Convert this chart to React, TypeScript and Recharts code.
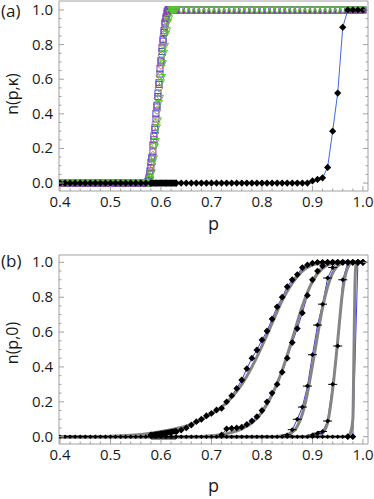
import React from "react";
import { ComposedChart, Line, Scatter, XAxis, YAxis } from "recharts";

const FONT = "'Open Sans', 'DejaVu Sans', sans-serif";
const FRAME = "#a0a0a0";
const TEXT = "#1a1a1a";

// p grids (0.01 coarse, 0.002 fine around the threshold)
const pCoarse = Array.from({ length: 61 }, (_, i) => Math.round((0.4 + i * 0.01) * 100) / 100);
const pFine = Array.from({ length: 31 }, (_, i) => Math.round((0.57 + i * 0.002) * 1000) / 1000);

const xTicks = [
  0.4, 0.42, 0.44, 0.46, 0.48, 0.5, 0.52, 0.54, 0.56, 0.58, 0.6, 0.62, 0.64, 0.66, 0.68, 0.7,
  0.72, 0.74, 0.76, 0.78, 0.8, 0.82, 0.84, 0.86, 0.88, 0.9, 0.92, 0.94, 0.96, 0.98, 1.0,
];
const yTicks = [
  0, 0.05, 0.1, 0.15, 0.2, 0.25, 0.3, 0.35, 0.4, 0.45, 0.5, 0.55, 0.6, 0.65, 0.7, 0.75, 0.8,
  0.85, 0.9, 0.95, 1.0,
];

// ---- panel (a)
const aBlackY = [
  0, 0, 0, 0, 0, 0, 0, 0, 0, 0,
  0, 0, 0, 0, 0, 0, 0, 0, 0, 0,
  0, 0, 0, 0, 0, 0, 0, 0, 0, 0,
  0, 0, 0, 0, 0, 0, 0, 0, 0, 0,
  0, 0, 0, 0, 0, 0, 0, 0, 0, 0,
  0.012, 0.021, 0.03, 0.09, 0.3, 0.52, 0.9, 1, 1, 1,
  1,
];
const aBandY = [0, 0, 0, 0, 0, 0, 0, 0, 0, 0, 0, 0, 0, 0, 0, 0, 0, 0, 0, 0, 0, 0, 0, 0, 0, 0];
const aLowY = [0, 0, 0, 0, 0, 0, 0, 0, 0, 0, 0, 0, 0, 0, 0, 0, 0];
const aHighY = [
  1, 1, 1, 1, 1, 1, 1, 1, 1, 1, 1, 1, 1, 1, 1, 1, 1, 1, 1, 1, 1, 1, 1, 1, 1, 1, 1, 1, 1, 1,
  1, 1, 1, 1, 1, 1, 1,
];
const aBlueY = [
  0, 0, 0.01, 0.03, 0.07, 0.12, 0.15, 0.22, 0.27, 0.31, 0.4, 0.44, 0.52, 0.57, 0.63, 0.71,
  0.76, 0.83, 0.87, 0.92, 0.95, 0.98, 1, 1, 1, 1, 1, 1, 1, 1, 1,
];
const aPurpleY = [
  0, 0, 0, 0.02, 0.05, 0.09, 0.14, 0.18, 0.25, 0.32, 0.37, 0.45, 0.5, 0.58, 0.66, 0.7, 0.78,
  0.82, 0.88, 0.93, 0.96, 0.99, 1, 1, 1, 1, 1, 1, 1, 1, 1,
];
const aOliveY = [
  0, 0, 0, 0.01, 0.03, 0.07, 0.11, 0.16, 0.22, 0.29, 0.35, 0.42, 0.49, 0.55, 0.62, 0.68, 0.74,
  0.8, 0.86, 0.9, 0.94, 0.97, 0.99, 1, 1, 1, 1, 1, 1, 1, 1,
];
const aGreenY = [
  0, 0, 0, 0, 0.02, 0.05, 0.06, 0.12, 0.14, 0.21, 0.24, 0.32, 0.36, 0.46, 0.49, 0.58, 0.61,
  0.69, 0.75, 0.79, 0.86, 0.88, 0.93, 0.95, 0.98, 1, 1, 1, 1, 1, 1,
];

// ---- panel (b): simulation points
const b1Y = [
  0.01, 0.012, 0.015, 0.018, 0.022, 0.027, 0.038, 0.05, 0.067, 0.086,
  0.1, 0.12, 0.134, 0.153, 0.163, 0.2, 0.235, 0.277, 0.325, 0.39,
  0.45, 0.497, 0.555, 0.606, 0.675, 0.745, 0.8, 0.86, 0.9, 0.93,
  0.97, 0.985, 0.995, 1, 1, 1, 1, 1, 1, 1, 1, 1, 1,
];
const b2Y = [
  0.01, 0.045, 0.048, 0.05, 0.055, 0.07, 0.09, 0.115, 0.15, 0.2, 0.25, 0.3, 0.37, 0.45, 0.54,
  0.62, 0.71, 0.81, 0.9, 0.95, 0.98, 1, 1, 1, 1, 1, 1, 1, 1,
];
const b3Y = [0.01, 0.04, 0.1, 0.17, 0.29, 0.47, 0.64, 0.76, 0.91, 0.97, 1, 1, 1, 1, 1, 1];
const b4Y = [0.01, 0.02, 0.03, 0.09, 0.3, 0.52, 0.9, 1, 1, 1, 1];
const b5Y = [0, 0, 1, 1];
const bBandY = [
  0.008, 0.009, 0.009, 0.011, 0.012, 0.012, 0.014, 0.015, 0.015, 0.017, 0.018, 0.019, 0.02,
  0.02, 0.022, 0.023, 0.023, 0.025, 0.026, 0.026, 0.028, 0.029, 0.03, 0.03, 0.032, 0.033,
];

// ---- panel (b): fitted curves
const g1P = [0.4, 0.5, 0.54, 0.58, 0.62, 0.66, 0.7, 0.72, 0.74, 0.76, 0.78, 0.8, 0.82, 0.84, 0.86, 0.88, 0.9, 0.92, 0.94, 1.0];
const g1Y = [0, 0.003, 0.008, 0.02, 0.04, 0.07, 0.13, 0.17, 0.225, 0.3, 0.4, 0.52, 0.65, 0.78, 0.88, 0.95, 0.985, 0.998, 1, 1];
const g2P = [0.4, 0.66, 0.7, 0.72, 0.74, 0.76, 0.78, 0.8, 0.82, 0.84, 0.86, 0.88, 0.9, 0.92, 0.94, 0.96, 1.0];
const g2Y = [0, 0, 0.005, 0.012, 0.025, 0.045, 0.08, 0.14, 0.24, 0.38, 0.56, 0.75, 0.89, 0.965, 0.995, 1, 1];
const g3P = [0.4, 0.82, 0.84, 0.86, 0.87, 0.88, 0.89, 0.9, 0.91, 0.92, 0.93, 0.94, 0.95, 0.96, 0.97, 1.0];
const g3Y = [0, 0, 0.005, 0.025, 0.06, 0.13, 0.25, 0.41, 0.58, 0.74, 0.86, 0.94, 0.98, 0.995, 1, 1];
const g4P = [0.4, 0.89, 0.91, 0.92, 0.93, 0.94, 0.95, 0.96, 0.97, 0.98, 1.0];
const g4Y = [0, 0, 0.005, 0.02, 0.08, 0.27, 0.55, 0.84, 0.97, 1, 1];
const g5P = [0.4, 0.96, 0.97, 0.975, 0.98, 0.982, 0.984, 0.986, 0.99, 1.0];
const g5Y = [0, 0, 0.005, 0.02, 0.1, 0.45, 0.85, 0.98, 1, 1];
const segP = [0.58, 0.63];
const segY = [-0.008, -0.008];

const zip = (ps: number[], ys: number[]) => ps.map((p, i) => ({ p, y: ys[i] }));

const pLow = pCoarse.slice(0, 17);
const pHigh = pCoarse.slice(24);
const colored = (fine: number[]) => [...zip(pLow, aLowY), ...zip(pFine, fine), ...zip(pHigh, aHighY)];

const aBlack = zip(pCoarse, aBlackY);
const aBand = zip(pFine.slice(5), aBandY);
const b1 = zip(pCoarse.slice(18), b1Y);
const b2 = zip(pCoarse.slice(32), b2Y);
const b3 = zip(pCoarse.slice(45), b3Y);
const b4 = zip(pCoarse.slice(50), b4Y);
const b5 = zip(pCoarse.slice(57), b5Y);
const bBase = pCoarse.slice(0, 58).map((p) => ({ p, y: 0 }));
const bBand = zip(pFine.slice(5), bBandY);
const fits = [zip(g1P, g1Y), zip(g2P, g2Y), zip(g3P, g3Y), zip(g4P, g4Y), zip(g5P, g5Y)];

const X_DOMAIN: [number, number] = [0.398, 1.01];

// ---- markers
const diamond = (r: number, bar = false) => (props: any) => {
  const { cx, cy } = props;
  return (
    <g>
      {bar && <line x1={cx - r - 2} y1={cy} x2={cx + r + 2} y2={cy} stroke="#000" strokeWidth={1} />}
      <polygon points={`${cx},${cy - r} ${cx + r},${cy} ${cx},${cy + r} ${cx - r},${cy}`} fill="#000" />
    </g>
  );
};
const openSquare = (color: string) => (props: any) => (
  <rect x={props.cx - 3} y={props.cy - 3} width={6} height={6} fill="none" stroke={color} strokeWidth={1} />
);
const openDiamond = (color: string) => (props: any) => {
  const { cx, cy } = props;
  return <polygon points={`${cx},${cy - 4} ${cx + 4},${cy} ${cx},${cy + 4} ${cx - 4},${cy}`} fill="none" stroke={color} strokeWidth={1} />;
};
const openTriangle = (color: string) => (props: any) => {
  const { cx, cy } = props;
  return <polygon points={`${cx - 3.5},${cy - 3} ${cx + 3.5},${cy - 3} ${cx},${cy + 3.5}`} fill="none" stroke={color} strokeWidth={1} />;
};

// ---- frame ticks (inward, major + minor)
type Side = "bottom" | "top" | "left" | "right";
const frameTick = (side: Side, step: number, labels: boolean) => (props: any) => {
  const { x, y, payload } = props;
  const v = payload.value as number;
  const major = Math.abs(v / step - Math.round(v / step)) < 1e-6;
  const len = major ? 5 : 2.5;
  let x2 = x;
  let y2 = y;
  if (side === "bottom") y2 = y - len;
  if (side === "top") y2 = y + len;
  if (side === "left") x2 = x + len;
  if (side === "right") x2 = x - len;
  return (
    <g>
      <line x1={x} y1={y} x2={x2} y2={y2} stroke={FRAME} strokeWidth={1} />
      {labels && major && side === "bottom" && (
        <text x={x} y={y + 16} textAnchor="middle" fontFamily={FONT} fontSize={15} fill={TEXT}>
          {v.toFixed(1)}
        </text>
      )}
      {labels && major && side === "left" && (
        <text x={x - 6} y={y + 5} textAnchor="end" fontFamily={FONT} fontSize={15} fill={TEXT}>
          {v.toFixed(1)}
        </text>
      )}
    </g>
  );
};

const XTitle = (props: any) => {
  const { viewBox, off } = props;
  return (
    <text x={viewBox.x + viewBox.width / 2} y={viewBox.y + off} textAnchor="middle" fontFamily={FONT} fontSize={18} fill={TEXT}>
      p
    </text>
  );
};
const YTitle = (props: any) => {
  const { text, cy } = props;
  return (
    <text x={18} y={cy} transform={`rotate(-90, 18, ${cy})`} textAnchor="middle" fontFamily={FONT} fontSize={16} fill={TEXT}>
      {text}
    </text>
  );
};

interface FrameProps {
  height: number;
  top: number;
  xAxisHeight: number;
  yDomain: [number, number];
  yTitle: string;
  yTitleY: number;
  xTitleOff: number;
  children: React.ReactNode;
}

const FramedChart = ({ height, top, xAxisHeight, yDomain, yTitle, yTitleY, xTitleOff, children }: FrameProps) => (
  <ComposedChart width={374} height={height} margin={{ top, right: 5, bottom: 0, left: 0 }}>
    <XAxis
      dataKey="p"
      type="number"
      domain={X_DOMAIN}
      ticks={xTicks}
      interval={0}
      allowDataOverflow
      height={xAxisHeight}
      tickSize={0}
      tickMargin={0}
      tickLine={false}
      axisLine={{ stroke: FRAME }}
      tick={frameTick("bottom", 0.1, true)}
      label={<XTitle off={xTitleOff} />}
    />
    <XAxis
      xAxisId="top"
      orientation="top"
      type="number"
      domain={X_DOMAIN}
      ticks={xTicks}
      interval={0}
      allowDataOverflow
      height={1}
      tickSize={0}
      tickMargin={0}
      tickLine={false}
      axisLine={{ stroke: FRAME }}
      tick={frameTick("top", 0.1, false)}
    />
    <YAxis
      dataKey="y"
      type="number"
      domain={yDomain}
      ticks={yTicks}
      interval={0}
      allowDataOverflow
      width={59}
      tickSize={0}
      tickMargin={0}
      tickLine={false}
      axisLine={{ stroke: FRAME }}
      tick={frameTick("left", 0.2, true)}
      label={<YTitle text={yTitle} cy={yTitleY} />}
    />
    <YAxis
      yAxisId="right"
      orientation="right"
      type="number"
      domain={yDomain}
      ticks={yTicks}
      interval={0}
      allowDataOverflow
      width={1}
      tickSize={0}
      tickMargin={0}
      tickLine={false}
      axisLine={{ stroke: FRAME }}
      tick={frameTick("right", 0.2, false)}
    />
    {children}
  </ComposedChart>
);

const panelLetter = (text: string, top: number) => (
  <div style={{ position: "absolute", left: 1, top, fontFamily: FONT, fontSize: 17, color: TEXT, lineHeight: "20px" }}>
    {text}
  </div>
);

export default function App() {
  return (
    <div style={{ position: "absolute", left: 0, top: 0, width: 374, height: 499, background: "#fff", overflow: "hidden" }}>
      <div style={{ position: "absolute", left: 0, top: 0 }}>
        <FramedChart height={250} top={0} xAxisHeight={59} yDomain={[-0.046, 1.052]} yTitle="n(p,κ)" yTitleY={94} xTitleOff={39}>
          <Scatter data={colored(aBlueY)} dataKey="y" shape={openSquare("#3a4fe6")} isAnimationActive={false} />
          <Scatter data={colored(aOliveY)} dataKey="y" shape={openDiamond("#a8862c")} isAnimationActive={false} />
          <Scatter data={colored(aPurpleY)} dataKey="y" shape={openSquare("#8a36c4")} isAnimationActive={false} />
          <Scatter data={colored(aGreenY)} dataKey="y" shape={openTriangle("#52cc2e")} isAnimationActive={false} />
          <Line data={aBlack} dataKey="y" type="linear" stroke="#3d6be0" strokeWidth={1} dot={false} isAnimationActive={false} />
          <Scatter data={aBand} dataKey="y" shape={diamond(3.6)} isAnimationActive={false} />
          <Scatter data={aBlack} dataKey="y" shape={diamond(3.6)} isAnimationActive={false} />
        </FramedChart>
      </div>
      <div style={{ position: "absolute", left: 0, top: 250 }}>
        <FramedChart height={249} top={4} xAxisHeight={55} yDomain={[-0.042, 1.042]} yTitle="n(p,0)" yTitleY={93} xTitleOff={48}>
          {[b1, b2, b3, b4, b5].map((d, i) => (
            <Line key={`blue-${i}`} data={d} dataKey="y" type="linear" stroke="#3b3bf0" strokeWidth={1} dot={false} isAnimationActive={false} />
          ))}
          {fits.map((d, i) => (
            <Line key={`fit-${i}`} data={d} dataKey="y" type="monotone" stroke="#858585" strokeWidth={3} dot={false} isAnimationActive={false} />
          ))}
          <Line data={zip(segP, segY)} dataKey="y" type="linear" stroke="#3a3a3a" strokeWidth={3} dot={false} isAnimationActive={false} />
          <Scatter data={bBase} dataKey="y" shape={diamond(2.3, true)} isAnimationActive={false} />
          <Scatter data={bBand} dataKey="y" shape={diamond(3)} isAnimationActive={false} />
          <Scatter data={b1} dataKey="y" shape={diamond(3.4)} isAnimationActive={false} />
          <Scatter data={b2} dataKey="y" shape={diamond(3.4)} isAnimationActive={false} />
          <Scatter data={b3} dataKey="y" shape={diamond(2.5, true)} isAnimationActive={false} />
          <Scatter data={b4} dataKey="y" shape={diamond(2.5, true)} isAnimationActive={false} />
          <Scatter data={b5} dataKey="y" shape={diamond(3.4)} isAnimationActive={false} />
        </FramedChart>
      </div>
      {panelLetter("(a)", 1)}
      {panelLetter("(b)", 251)}
    </div>
  );
}
